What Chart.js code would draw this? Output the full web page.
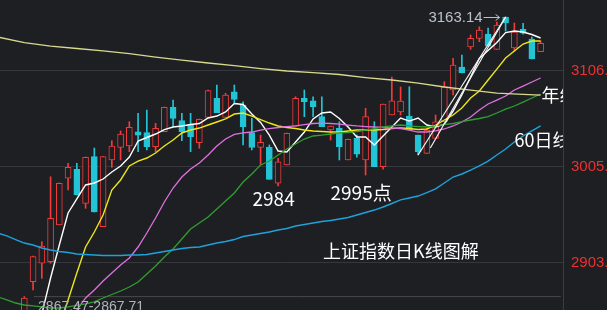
<!DOCTYPE html>
<html>
<head>
<meta charset="utf-8">
<script src="https://cdn.jsdelivr.net/npm/chart.js@4.4.0/dist/chart.umd.min.js"></script>
<style>
  html, body { margin: 0; padding: 0; background: #1e1f23; overflow: hidden; }
  #wrap { width: 607px; height: 310px; }
</style>
</head>
<body>
<div id="wrap"><canvas id="kChart"></canvas></div>
<script>
// daily K-line, index 0..59
const days = Array.from({ length: 60 }, (_, i) => i);

const openVals = [
  2851.0, 2883.2, 2902.7, 2904.4, 2943.2, 2992.6, 3002.1, 2966.1, 3015.4, 2941.4,
  3011.9, 3025.3, 3026.7, 3041.8, 3040.8, 3026.0, 3041.8, 3067.6, 3053.5, 3048.9,
  3030.2, 3057.0, 3077.1, 3057.0, 3084.1, 3070.1, 3040.8, 3025.3, 3025.3, 2987.3,
  3006.6, 3047.8, 3077.1, 3074.6, 3057.7, 3043.6, 3045.4, 3011.9, 3034.8, 3011.9,
  3043.6, 3004.8, 3059.5, 3062.7, 3058.4, 3038.3, 3018.9, 3034.8, 3052.4, 3085.9,
  3110.2, 3131.4, 3140.6, 3145.1, 3128.9, 3163.1, 3130.3, 3150.1, 3139.8, 3126.4
];
const highVals = [
  2867.5, 2910.4, 2925.5, 2994.2, 2987.6, 3008.4, 3008.4, 3015.1, 3024.6, 3015.4,
  3032.3, 3042.6, 3052.4, 3061.3, 3064.8, 3050.7, 3067.9, 3075.3, 3061.3, 3061.3,
  3055.3, 3085.9, 3091.2, 3082.4, 3091.2, 3073.5, 3056.0, 3038.3, 3027.8, 3013.7,
  3040.4, 3078.8, 3085.9, 3078.8, 3078.8, 3047.8, 3052.4, 3034.1, 3038.3, 3066.6,
  3052.4, 3071.0, 3099.7, 3089.1, 3089.4, 3038.3, 3045.7, 3059.5, 3094.7, 3119.4,
  3122.9, 3144.1, 3152.8, 3151.5, 3157.8, 3163.14, 3156.8, 3156.4, 3142.0, 3137.7
];
const lowVals = [
  2849.0, 2874.5, 2886.8, 2902.7, 2943.2, 2980.2, 2974.9, 2960.8, 2956.9, 2941.4,
  3004.2, 3011.9, 3020.7, 3020.7, 3022.5, 3020.7, 3041.8, 3047.1, 3032.3, 3020.7,
  3024.3, 3057.0, 3061.9, 3057.0, 3071.8, 3027.8, 3022.5, 3006.7, 2991.5, 2984.4,
  3006.6, 3047.8, 3057.7, 3057.7, 3047.1, 3033.0, 3011.9, 3011.9, 3014.8, 2996.0,
  3004.8, 3002.1, 3059.5, 3059.5, 3043.6, 3017.2, 3018.9, 3034.8, 3052.4, 3080.6,
  3103.9, 3128.9, 3137.0, 3132.4, 3128.9, 3148.3, 3127.1, 3145.1, 3118.7, 3126.4
];
const closeVals = [
  2866.0, 2909.7, 2921.0, 2950.3, 2987.3, 3004.2, 2974.9, 3014.8, 2956.9, 3015.4,
  3026.7, 3039.4, 3046.5, 3038.3, 3026.0, 3045.4, 3067.6, 3056.0, 3041.8, 3036.5,
  3054.9, 3085.2, 3061.9, 3080.6, 3076.1, 3047.1, 3025.3, 3030.6, 2991.5, 3010.1,
  3040.1, 3077.1, 3073.5, 3068.3, 3047.1, 3047.8, 3026.0, 3033.8, 3018.2, 3057.7,
  3004.8, 3071.0, 3074.6, 3074.3, 3043.6, 3020.7, 3043.6, 3052.4, 3089.4, 3112.3,
  3103.9, 3140.6, 3149.3, 3132.4, 3154.6, 3156.8, 3147.2, 3145.9, 3118.7, 3135.3
];

// moving averages, index -3..59
const lineIdx = Array.from({ length: 63 }, (_, i) => i - 3);
const ma5 = [null, null, null, null,
  2821.6, 2849.1, 2887.1, 2922.0, 2955.9, 2970.7, 2985.5, 2987.6, 2991.8, 2999.2,
  3005.6, 3015.1, 3032.0, 3035.7, 3039.4, 3044.1, 3046.8, 3047.9, 3049.4, 3050.5,
  3056.3, 3058.4, 3062.7, 3071.6, 3070.6, 3060.5, 3051.6, 3038.3, 3021.4, 3020.4,
  3030.9, 3041.5, 3055.3, 3061.6, 3062.7, 3055.8, 3046.8, 3036.2, 3036.2, 3027.8,
  3037.3, 3046.8, 3056.3, 3053.1, 3056.3, 3048.9, 3046.8, 3049.9, 3063.7, 3080.6,
  3099.7, 3119.2, 3127.7, 3136.1, 3146.7, 3148.3, 3147.2, 3144.6, 3140.9];
const ma10 = [null, null, null, null, null, null, null,
  2835.3, 2863.9, 2892.4, 2919.9, 2935.8, 2953.8, 2980.2, 2990.8, 3005.6, 3010.8,
  3014.0, 3019.3, 3026.7, 3033.0, 3040.5, 3043.6, 3045.7, 3048.9, 3052.1, 3055.3,
  3060.5, 3061.6, 3058.4, 3054.7, 3051.0, 3047.9, 3046.3, 3045.2, 3043.6, 3042.6,
  3042.0, 3041.5, 3041.5, 3042.6, 3043.6, 3043.6, 3043.6, 3044.2, 3045.2, 3045.7,
  3045.2, 3044.2, 3044.7, 3048.9, 3054.2, 3059.5, 3066.9, 3077.5, 3084.9, 3096.5,
  3108.0, 3119.7, 3127.1, 3134.5, 3137.7, 3137.7];
const ma20 = [null, null, null, null, null, null, null, null,
  2832.2, 2853.3, 2866.0, 2874.5, 2884.0, 2892.4, 2900.9, 2908.3, 2919.9, 2934.7,
  2950.6, 2967.5, 2982.3, 2993.9, 3002.4, 3008.7, 3017.2, 3026.7, 3034.1, 3038.9,
  3040.5, 3041.5, 3043.6, 3045.2, 3046.3, 3047.3, 3047.9, 3049.4, 3050.5, 3051.0,
  3050.5, 3049.9, 3048.9, 3047.9, 3047.3, 3046.8, 3046.3, 3045.7, 3045.2, 3043.6,
  3041.5, 3041.5, 3042.6, 3044.7, 3047.9, 3052.1, 3057.4, 3064.8, 3071.1, 3075.3,
  3079.6, 3085.9, 3090.1, 3094.4, 3098.6];
const ma30 = [2867.1, 2863.9, 2860.7,
  2858.6, 2857.6, 2856.5, 2855.4, 2855.4, 2856.5, 2858.1, 2859.7, 2861.8, 2866.0,
  2869.7, 2873.4, 2877.6, 2882.9, 2891.4, 2899.8, 2909.3, 2917.8, 2928.4, 2938.9,
  2945.3, 2951.6, 2960.1, 2968.6, 2977.0, 2988.6, 2997.1, 3006.6, 3010.8, 3017.2,
  3023.5, 3028.8, 3034.1, 3037.3, 3038.3, 3039.4, 3040.5, 3041.0, 3042.0, 3043.6,
  3045.2, 3046.8, 3047.9, 3048.9, 3047.9, 3047.3, 3046.8, 3047.9, 3049.4, 3050.5,
  3052.6, 3054.2, 3055.8, 3057.9, 3061.6, 3065.8, 3069.0, 3073.2, 3077.5, 3081.7];
const ma60 = [2934.7, 2931.6, 2927.8,
  2924.1, 2922.0, 2918.9, 2916.7, 2915.2, 2914.1, 2912.5, 2912.0, 2911.5, 2910.9,
  2910.9, 2910.9, 2911.5, 2911.5, 2912.0, 2913.6, 2915.2, 2916.7, 2918.3, 2919.4,
  2919.9, 2922.0, 2924.1, 2925.7, 2927.8, 2931.0, 2932.6, 2934.2, 2935.8, 2937.9,
  2939.5, 2942.1, 2943.7, 2945.3, 2946.9, 2947.9, 2949.5, 2951.1, 2953.8, 2956.4,
  2959.0, 2962.2, 2965.9, 2969.7, 2971.7, 2973.8, 2977.5, 2981.3, 2987.6, 2993.9,
  2997.1, 3001.3, 3005.6, 3010.8, 3017.2, 3023.5, 3030.9, 3037.3, 3042.6, 3047.9];

// 年线 (read every few days)
const yearX = [-3, 0, 3, 6, 9, 12, 15, 18, 21, 24, 27, 30, 33, 36, 39, 42, 45, 48, 51, 54, 57, 59];
const yearLine = [3141.9, 3136.1, 3132.4, 3129.8, 3127.2, 3124.5, 3120.8, 3117.6, 3114.5, 3111.8, 3108.6,
  3106.0, 3104.4, 3102.3, 3099.1, 3096.5, 3093.3, 3089.1, 3085.9, 3082.7, 3081.2, 3080.6];

// hand drawn trend lines up to the high
const fanX = [[45, 55], [46.4, 55]];
const fanY = [[3017.2, 3163.14], [3024.6, 3163.14]];

const lowMark = 2867.47;
const yTicks = [2903.6, 3005.1, 3106.6];

const RED = '#f43a3a';
const CYAN = '#22c4d6';
const BG = '#1e1f23';

function series(xs, ys) {
  return xs.map((x, k) => ({ x: x, y: ys[k] })).filter(p => p.y !== null);
}
function maLine(values, color, width) {
  return {
    type: 'line',
    data: series(lineIdx, values),
    borderColor: color,
    borderWidth: width,
    pointRadius: 0,
    tension: 0,
    order: 1
  };
}
const isUp = i => closeVals[i] >= openVals[i];

const labelsPlugin = {
  id: 'labels',
  afterDatasetsDraw(chart) {
    const ctx = chart.ctx;
    const xs = chart.scales.x, ys = chart.scales.y;
    const area = chart.chartArea;
    ctx.save();

    // high marker: text plus arrow pointing at the top candle
    const hx = xs.getPixelForValue(55), hy = ys.getPixelForValue(highVals[55]);
    ctx.fillStyle = '#bcc2cc';
    ctx.strokeStyle = '#bcc2cc';
    ctx.font = '15px "Liberation Sans", Arial, sans-serif';
    ctx.textBaseline = 'middle';
    ctx.textAlign = 'right';
    ctx.fillText('3163.14', hx - 23, hy + 1);
    ctx.lineWidth = 1;
    ctx.beginPath();
    ctx.moveTo(hx - 22, hy + 0.5);
    ctx.lineTo(hx - 6, hy + 0.5);
    ctx.moveTo(hx - 10, hy - 2.5);
    ctx.lineTo(hx - 6, hy + 0.5);
    ctx.lineTo(hx - 10, hy + 3.5);
    ctx.stroke();

    ctx.fillStyle = '#b0b4bc';
    ctx.font = '14px "Liberation Sans", Arial, sans-serif';
    ctx.textAlign = 'left';
    ctx.textBaseline = 'top';
    ctx.fillText('2867.47-2867.71', xs.getPixelForValue(1) + 5, ys.getPixelForValue(lowMark) + 4);

    ctx.fillStyle = '#ffffff';
    ctx.font = '19px "Noto Sans CJK SC", sans-serif';
    ctx.textAlign = 'center';
    ctx.textBaseline = 'top';
    ctx.fillText('2984', xs.getPixelForValue(29) - 4.5, ys.getPixelForValue(lowVals[29]) + 3);
    ctx.fillText('2995点', xs.getPixelForValue(39) - 4.5, ys.getPixelForValue(lowVals[39]) + 8);

    ctx.font = '18px "Noto Sans CJK SC", sans-serif';
    ctx.textAlign = 'left';
    ctx.textBaseline = 'middle';
    ctx.fillText('上证指数日K线图解', area.left + 323, area.top + 251);

    ctx.beginPath();
    ctx.rect(area.left, area.top, area.right - area.left, area.bottom - area.top);
    ctx.clip();
    ctx.fillText('60日线', xs.getPixelForValue(59) - 26, ys.getPixelForValue(ma60[ma60.length - 1]) + 14);
    ctx.fillText('年线', xs.getPixelForValue(59) + 1, ys.getPixelForValue(yearLine[yearLine.length - 1]));
    ctx.restore();
  }
};

const datasets = [
  {
    type: 'bar',
    data: days.map(i => ({ x: i, y: [lowVals[i], highVals[i]] })),
    backgroundColor: days.map(i => isUp(i) ? RED : CYAN),
    barThickness: 1,
    grouped: false,
    order: 3
  },
  {
    type: 'bar',
    data: days.map(i => ({ x: i, y: [openVals[i], closeVals[i]] })),
    backgroundColor: days.map(i => isUp(i) ? BG : CYAN),
    borderColor: days.map(i => isUp(i) ? RED : CYAN),
    borderWidth: 1,
    borderSkipped: false,
    barThickness: 6,
    minBarLength: 1,
    grouped: false,
    order: 2
  },
  {
    type: 'line',
    data: [{ x: 1.1, y: lowMark }, { x: 61.3, y: lowMark }],
    borderColor: '#47484d',
    borderWidth: 1,
    pointRadius: 0,
    order: 4
  },
  {
    type: 'line',
    data: series(yearX, yearLine),
    borderColor: '#d8d88e',
    borderWidth: 1.3,
    pointRadius: 0,
    order: 1
  },
  maLine(ma60, '#1ea2dc', 1.4),
  maLine(ma30, '#2f9e2f', 1.3),
  maLine(ma20, '#e070e0', 1.3),
  maLine(ma10, '#ece61a', 1.4),
  maLine(ma5, '#ffffff', 1.4)
];
fanX.forEach((xs, k) => {
  datasets.push({
    type: 'line',
    data: series(xs, fanY[k]),
    borderColor: '#f2f2f2',
    borderWidth: 1.2,
    pointRadius: 0,
    order: 0
  });
});

new Chart(document.getElementById('kChart'), {
  type: 'bar',
  data: { datasets: datasets },
  plugins: [labelsPlugin],
  options: {
    responsive: true,
    maintainAspectRatio: false,
    animation: false,
    layout: { padding: 0 },
    plugins: { legend: { display: false }, tooltip: { enabled: false } },
    scales: {
      x: {
        type: 'linear',
        display: false,
        offset: false,
        min: -2.78,
        max: 61.56
      },
      y: {
        position: 'right',
        min: 2853.3,
        max: 3181.1,
        afterBuildTicks: axis => { axis.ticks = yTicks.map(v => ({ value: v })); },
        afterFit: axis => { axis.width = 44; axis.paddingTop = 0; axis.paddingBottom = 0; },
        grid: { color: '#36373c', drawTicks: false },
        border: { display: true, color: '#3b3c41' },
        ticks: {
          color: '#ee3030',
          padding: 8,
          font: { size: 15, family: '"Liberation Sans", Arial, sans-serif' },
          callback: v => v.toFixed(2)
        }
      }
    }
  }
});
</script>
</body>
</html>
